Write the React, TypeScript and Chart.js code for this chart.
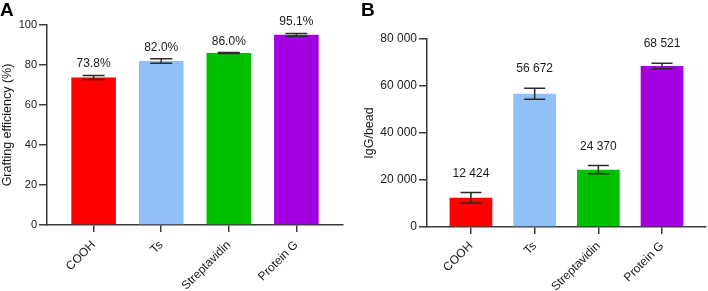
import React, { useEffect, useRef } from "react";
import { Chart, registerables } from "chart.js";

Chart.register(...registerables);

const categories = ["COOH", "Ts", "Streptavidin", "Protein G"];
const barColors = ["#FF0000", "#90BFF9", "#00C000", "#A200E1"];

const efficiencyValues = [73.8, 82.0, 86.0, 95.1];
const efficiencyErrors = [1.0, 1.15, 0.2, 0.7];
const efficiencyLabels = ["73.8%", "82.0%", "86.0%", "95.1%"];

const iggValues = [12424, 56672, 24370, 68521];
const iggErrors = [2250, 2350, 1750, 1200];
const iggLabels = ["12 424", "56 672", "24 370", "68 521"];

const FONT = "'Liberation Sans', Arial, Helvetica, sans-serif";
const AXIS = "#3a3a3a";
const TEXT = "#1a1a1a";
const EDGE = 0.69;

const fmtSpace = (v: number) => String(v).replace(/\B(?=(\d{3})+(?!\d))/g, " ");

const errPlugin = {
  id: "errLabels",
  afterDatasetsDraw(chart: any, _args: any, opts: any) {
    const { ctx } = chart;
    const meta = chart.getDatasetMeta(0);
    const yScale = chart.scales.y;
    const values = chart.data.datasets[0].data;
    ctx.save();
    meta.data.forEach((el: any, i: number) => {
      const v = values[i];
      const e = opts.errors[i];
      const x = el.x;
      const yt = yScale.getPixelForValue(v + e);
      const yb = yScale.getPixelForValue(v - e);
      ctx.strokeStyle = "#2a2a2a";
      ctx.lineWidth = 1.5;
      ctx.beginPath();
      ctx.moveTo(x, yt);
      ctx.lineTo(x, yb);
      ctx.moveTo(x - opts.cap, yt);
      ctx.lineTo(x + opts.cap, yt);
      ctx.moveTo(x - opts.cap, yb);
      ctx.lineTo(x + opts.cap, yb);
      ctx.stroke();
      ctx.fillStyle = TEXT;
      ctx.font = `12px ${FONT}`;
      ctx.textAlign = "center";
      ctx.textBaseline = "alphabetic";
      ctx.fillText(opts.labels[i], x, yt - opts.gap);
    });
    ctx.font = `bold 19px ${FONT}`;
    ctx.fillStyle = "#000";
    ctx.textAlign = "left";
    ctx.textBaseline = "alphabetic";
    ctx.fillText(opts.letter, opts.letterX, opts.letterY);
    ctx.restore();
  },
};

type PanelProps = {
  values: number[];
  errors: number[];
  labels: string[];
  letter: string;
  letterX: number;
  letterY: number;
  yMax: number;
  yStep: number;
  yTitle: string;
  yTitlePad: number;
  yTickSize: number;
  yFormat: (v: number) => string;
  yWidth: number;
  xHeight: number;
  xPad: number;
  padTop: number;
  padRight: number;
  barPct: number;
  cap: number;
  gap: number;
};

function Panel(p: PanelProps) {
  const ref = useRef<HTMLCanvasElement>(null);
  useEffect(() => {
    if (!ref.current) return;
    const chart = new Chart(ref.current, {
      type: "bar",
      data: {
        labels: categories,
        datasets: [
          {
            data: p.values,
            backgroundColor: barColors,
            borderWidth: 0,
            barPercentage: p.barPct,
            categoryPercentage: 1,
          },
        ],
      },
      options: {
        animation: false,
        responsive: false,
        events: [],
        layout: { padding: { top: p.padTop, right: p.padRight, left: 0, bottom: 0 } },
        plugins: {
          legend: { display: false },
          tooltip: { enabled: false },
          errLabels: {
            errors: p.errors,
            labels: p.labels,
            cap: p.cap,
            gap: p.gap,
            letter: p.letter,
            letterX: p.letterX,
            letterY: p.letterY,
          },
        } as any,
        scales: {
          x: {
            type: "category",
            offset: true,
            border: { display: true, color: AXIS, width: 1.5 },
            grid: {
              display: true,
              offset: false,
              drawOnChartArea: false,
              drawTicks: true,
              tickLength: 7,
              color: AXIS,
              lineWidth: 1.5,
            },
            ticks: {
              autoSkip: false,
              maxRotation: 45,
              minRotation: 45,
              padding: p.xPad,
              color: TEXT,
              font: { family: FONT, size: 12 },
            },
            afterBuildTicks: (s: any) => {
              s._startValue = -EDGE;
              s._valueRange = categories.length - 1 + 2 * EDGE;
            },
            afterFit: (s: any) => {
              s.height = p.xHeight;
            },
          } as any,
          y: {
            min: 0,
            max: p.yMax,
            border: { display: true, color: AXIS, width: 1.5 },
            grid: {
              display: true,
              drawOnChartArea: false,
              drawTicks: true,
              tickLength: 8,
              color: AXIS,
              lineWidth: 1.5,
            },
            ticks: {
              stepSize: p.yStep,
              padding: 2,
              color: TEXT,
              font: { family: FONT, size: p.yTickSize },
              callback: (v: any) => p.yFormat(Number(v)),
            },
            title: {
              display: true,
              text: p.yTitle,
              color: TEXT,
              font: { family: FONT, size: 12.5 },
              padding: { top: p.yTitlePad, bottom: 0 },
            },
            afterFit: (s: any) => {
              s.width = p.yWidth;
            },
          } as any,
        },
      },
      plugins: [errPlugin],
    });
    return () => chart.destroy();
  }, []);
  return <canvas ref={ref} width={354} height={291} style={{ display: "block" }} />;
}

export default function App() {
  return (
    <div style={{ position: "absolute", left: 0, top: 0, width: 708, height: 291, background: "#fff" }}>
      <div style={{ position: "absolute", left: 0, top: 0 }}>
        <Panel
          values={efficiencyValues}
          errors={efficiencyErrors}
          labels={efficiencyLabels}
          letter="A"
          letterX={0}
          letterY={16}
          yMax={100}
          yStep={20}
          yTitle="Grafting efficiency (%)"
          yTitlePad={0}
          yTickSize={11}
          yFormat={(v) => String(v)}
          yWidth={47}
          xHeight={66}
          xPad={6}
          padTop={25}
          padRight={11}
          barPct={0.66}
          cap={11}
          gap={8}
        />
      </div>
      <div style={{ position: "absolute", left: 354, top: 0 }}>
        <Panel
          values={iggValues}
          errors={iggErrors}
          labels={iggLabels}
          letter="B"
          letterX={7}
          letterY={16}
          yMax={80000}
          yStep={20000}
          yTitle="IgG/bead"
          yTitlePad={8}
          yTickSize={12}
          yFormat={fmtSpace}
          yWidth={73}
          xHeight={64}
          xPad={5}
          padTop={39}
          padRight={2}
          barPct={0.67}
          cap={10.5}
          gap={16}
        />
      </div>
    </div>
  );
}
